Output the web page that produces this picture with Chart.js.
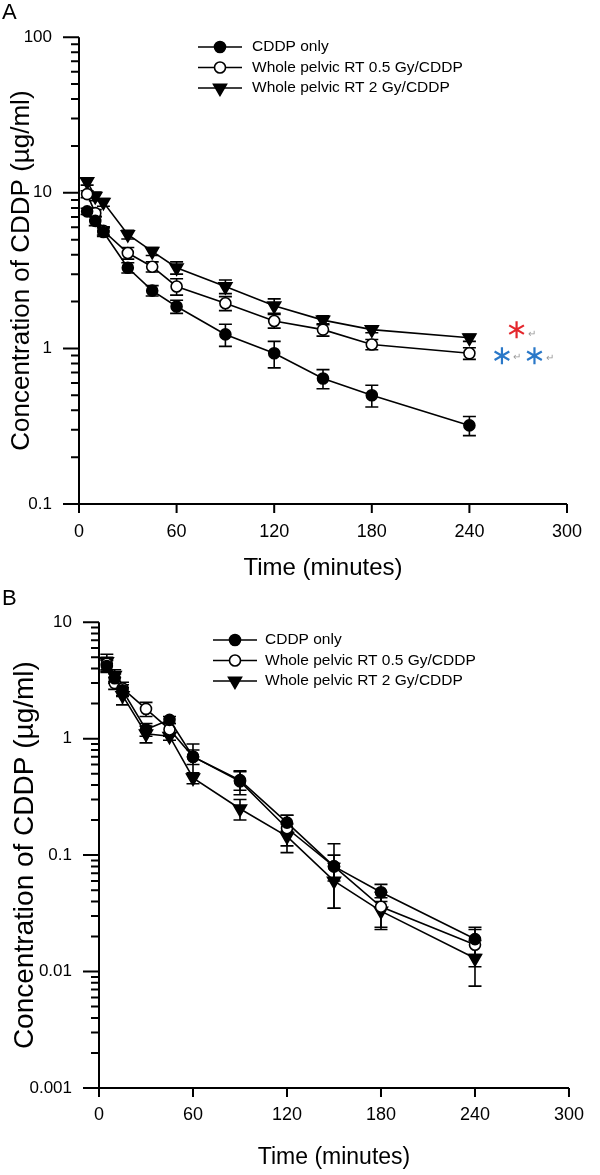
<!DOCTYPE html>
<html lang="en">
<head>
  <meta charset="UTF-8">
  <title>CDDP concentration after pelvic RT</title>
  <script src="https://cdn.jsdelivr.net/npm/chart.js"></script>
  <style>
    body { margin: 0; background: #fff; }
    canvas { position: absolute; left: 0; }
    #panelA { top: 0; }
    #panelB { top: 585px; }
  </style>
</head>
<body>
  <canvas id="panelA" width="600" height="585"></canvas>
  <canvas id="panelB" width="600" height="590"></canvas>

  <script>
    // sampling times (minutes)
    const times = [5, 10, 15, 30, 45, 60, 90, 120, 150, 180, 240];
    const seriesNames = ['CDDP only', 'Whole pelvic RT 0.5 Gy/CDDP', 'Whole pelvic RT 2 Gy/CDDP'];

    // panel A, concentration in ug/ml, mean and SEM
    const aCddp    = [7.6, 6.6, 5.6, 3.3, 2.35, 1.86, 1.23, 0.93, 0.64, 0.50, 0.32];
    const aCddpErr = [0.35, 0.45, 0.35, 0.25, 0.18, 0.18, 0.2, 0.18, 0.09, 0.08, 0.045];
    const aRt05    = [9.8, 7.4, 5.7, 4.1, 3.35, 2.5, 1.95, 1.5, 1.32, 1.06, 0.93];
    const aRt05Err = [0.5, 0.4, 0.35, 0.35, 0.25, 0.3, 0.2, 0.15, 0.12, 0.08, 0.08];
    const aRt2     = [11.8, 9.5, 8.7, 5.4, 4.2, 3.3, 2.5, 1.88, 1.52, 1.32, 1.17];
    const aRt2Err  = [0.6, 0.6, 0.5, 0.35, 0.25, 0.3, 0.25, 0.2, 0.1, 0.06, 0.06];

    // panel B
    const bCddp    = [4.2, 3.3, 2.6, 1.2, 1.45, 0.7, 0.44, 0.19, 0.08, 0.048, 0.019];
    const bCddpErr = [0.5, 0.3, 0.3, 0.15, 0.1, 0.1, 0.08, 0.03, 0.02, 0.008, 0.005];
    const bRt05    = [4.4, 3.0, 2.7, 1.8, 1.2, 0.7, 0.43, 0.17, 0.08, 0.036, 0.017];
    const bRt05Err = [0.6, 0.35, 0.35, 0.25, 0.15, 0.2, 0.1, 0.05, 0.045, 0.012, 0.006];
    const bRt2     = [4.6, 3.5, 2.35, 1.1, 1.05, 0.46, 0.25, 0.145, 0.06, 0.033, 0.013];
    const bRt2Err  = [0.7, 0.4, 0.4, 0.18, 0.08, 0.05, 0.05, 0.04, 0.025, 0.01, 0.0055];

    // tick labels
    const xTicks = [0, 60, 120, 180, 240, 300];
    const aYTicks = [0.1, 1, 10, 100];
    const bYTicks = [0.001, 0.01, 0.1, 1, 10];

    // significance marks beside panel A (minutes, ug/ml)
    const aStars = [
      { t: 269, v: 1.32, color: '#e4262c' },
      { t: 260, v: 0.897, color: '#2a78c8' },
      { t: 280, v: 0.897, color: '#2a78c8' }
    ];
    const aReturns = [
      { t: 278.5, v: 1.24 },
      { t: 269, v: 0.872 },
      { t: 289.5, v: 0.863 }
    ];

    const fontFamily = '"Liberation Sans", Arial, sans-serif';
    const markers = [
      { style: 'circle', rotation: 0, radius: 5.5, fill: '#000' },
      { style: 'circle', rotation: 0, radius: 5.5, fill: '#fff' },
      { style: 'triangle', rotation: 180, radius: 7.5, fill: '#000' }
    ];

    function makeDatasets(values, errors) {
      return seriesNames.map((name, s) => ({
        label: name,
        data: times.map((t, i) => ({ x: t, y: values[s][i] })),
        errors: errors[s],
        borderColor: '#000',
        borderWidth: 1.6,
        pointStyle: markers[s].style,
        pointRotation: markers[s].rotation,
        pointRadius: markers[s].radius,
        pointBackgroundColor: markers[s].fill,
        pointBorderColor: '#000',
        pointBorderWidth: 1.6,
        tension: 0,
        fill: false,
        clip: false
      }));
    }

    function drawMarker(ctx, ds, cx, cy) {
      const r = ds.pointRadius;
      ctx.fillStyle = ds.pointBackgroundColor;
      ctx.lineWidth = ds.pointBorderWidth;
      ctx.beginPath();
      if (ds.pointStyle === 'triangle') {
        ctx.moveTo(cx, cy + r);
        ctx.lineTo(cx - 0.866 * r, cy - 0.5 * r);
        ctx.lineTo(cx + 0.866 * r, cy - 0.5 * r);
        ctx.closePath();
      } else {
        ctx.arc(cx, cy, r, 0, Math.PI * 2);
      }
      ctx.fill();
      ctx.stroke();
    }

    // vertical error bars with caps
    const errorBars = {
      id: 'errorBars',
      beforeDatasetsDraw(chart) {
        const { ctx, scales: { x, y } } = chart;
        ctx.save();
        ctx.strokeStyle = '#000';
        ctx.lineWidth = 1.6;
        chart.data.datasets.forEach(ds => {
          ds.data.forEach((p, i) => {
            const e = ds.errors[i];
            const px = x.getPixelForValue(p.x);
            const top = y.getPixelForValue(p.y + e);
            const bot = y.getPixelForValue(Math.max(p.y - e, y.min));
            ctx.beginPath();
            ctx.moveTo(px, top); ctx.lineTo(px, bot);
            ctx.moveTo(px - 6.5, top); ctx.lineTo(px + 6.5, top);
            ctx.moveTo(px - 6.5, bot); ctx.lineTo(px + 6.5, bot);
            ctx.stroke();
          });
        });
        ctx.restore();
      }
    };

    // axis lines and tick marks, SigmaPlot style
    const axisFrame = {
      id: 'axisFrame',
      beforeDatasetsDraw(chart, args, opts) {
        const { ctx, chartArea: a, scales: { x, y } } = chart;
        ctx.save();
        ctx.strokeStyle = '#000';
        ctx.lineWidth = 2;
        ctx.beginPath();
        ctx.moveTo(a.left, a.top); ctx.lineTo(a.left, a.bottom);
        ctx.moveTo(a.left - opts.major, a.bottom); ctx.lineTo(a.right, a.bottom);
        const majors = y.ticks.map(t => t.value);
        majors.forEach((v, i) => {
          const py = y.getPixelForValue(v);
          ctx.moveTo(a.left - opts.major, py); ctx.lineTo(a.left, py);
          if (i < majors.length - 1) {
            for (let k = 2; k <= 9; k++) {
              const q = y.getPixelForValue(v * k);
              ctx.moveTo(a.left - opts.minor, q); ctx.lineTo(a.left, q);
            }
          }
        });
        x.ticks.forEach(t => {
          const px = x.getPixelForValue(t.value);
          ctx.moveTo(px, a.bottom); ctx.lineTo(px, a.bottom + opts.xTick);
        });
        ctx.stroke();
        ctx.restore();
      }
    };

    // legend: line + marker + text, placed inside the plot
    const lineLegend = {
      id: 'lineLegend',
      afterDraw(chart, args, opts) {
        const { ctx } = chart;
        ctx.save();
        ctx.strokeStyle = '#000';
        ctx.font = opts.font;
        ctx.textBaseline = 'middle';
        chart.data.datasets.forEach((ds, i) => {
          const yy = opts.rows[i];
          ctx.lineWidth = 1.6;
          ctx.beginPath();
          ctx.moveTo(opts.x0, yy); ctx.lineTo(opts.x1, yy);
          ctx.stroke();
          drawMarker(ctx, ds, (opts.x0 + opts.x1) / 2, yy);
          ctx.fillStyle = '#000';
          ctx.fillText(ds.label, opts.textX, yy);
        });
        // panel letter
        ctx.font = '22px ' + fontFamily;
        ctx.textBaseline = 'alphabetic';
        ctx.fillText(opts.letter, 2, opts.letterY);
        ctx.restore();
      }
    };

    // asterisks and paragraph marks
    const sigMarks = {
      id: 'sigMarks',
      afterDraw(chart, args, opts) {
        if (!opts.stars) return;
        const { ctx, scales: { x, y } } = chart;
        ctx.save();
        ctx.lineWidth = 2.2;
        opts.stars.forEach(s => {
          const cx = x.getPixelForValue(s.t), cy = y.getPixelForValue(s.v), r = 8.5;
          ctx.strokeStyle = s.color;
          ctx.beginPath();
          for (let k = 0; k < 3; k++) {
            const ang = Math.PI / 2 + k * Math.PI / 3;
            ctx.moveTo(cx + r * Math.cos(ang), cy + r * Math.sin(ang));
            ctx.lineTo(cx - r * Math.cos(ang), cy - r * Math.sin(ang));
          }
          ctx.stroke();
        });
        ctx.fillStyle = '#9a9a9a';
        ctx.font = '10px ' + fontFamily;
        ctx.textAlign = 'center';
        ctx.textBaseline = 'middle';
        opts.returns.forEach(r => {
          ctx.fillText('\u21B5', x.getPixelForValue(r.t), y.getPixelForValue(r.v));
        });
        ctx.restore();
      }
    };

    function renderPanel(id, cfg) {
      const ctx = document.getElementById(id).getContext('2d');
      return new Chart(ctx, {
        type: 'line',
        data: { datasets: makeDatasets(cfg.values, cfg.errors) },
        plugins: [axisFrame, errorBars, lineLegend, sigMarks],
        options: {
          responsive: false,
          animation: false,
          layout: { padding: cfg.padding },
          scales: {
            x: {
              type: 'linear',
              min: 0, max: 300,
              afterBuildTicks: s => { s.ticks = xTicks.map(v => ({ value: v })); },
              afterFit: s => { s.height = cfg.xHeight; },
              grid: { display: false, drawTicks: false },
              border: { display: false },
              ticks: { color: '#000', padding: cfg.xTickPad, maxRotation: 0, autoSkip: false,
                       font: { family: fontFamily, size: 18 } },
              title: { display: true, text: 'Time (minutes)', color: '#000',
                       font: { family: fontFamily, size: cfg.xTitleSize },
                       padding: { top: 0, bottom: cfg.xTitlePad } }
            },
            y: {
              type: 'logarithmic',
              min: cfg.yTicks[0], max: cfg.yTicks[cfg.yTicks.length - 1],
              afterBuildTicks: s => { s.ticks = cfg.yTicks.map(v => ({ value: v })); },
              afterFit: s => { s.width = cfg.yWidth; },
              grid: { display: false, drawTicks: false },
              border: { display: false },
              ticks: { color: '#000', padding: 27, autoSkip: false, callback: v => String(v),
                       font: { family: fontFamily, size: 17 } },
              title: { display: true, text: 'Concentration of CDDP (\u00B5g/ml)', color: '#000',
                       font: { family: fontFamily, size: cfg.yTitleSize },
                       padding: { top: cfg.yTitlePad, bottom: 0 } }
            }
          },
          plugins: {
            legend: { display: false },
            tooltip: { enabled: false },
            axisFrame: { major: 16, minor: 8, xTick: 9 },
            lineLegend: cfg.legend,
            sigMarks: cfg.marks || {}
          }
        }
      });
    }

    renderPanel('panelA', {
      values: [aCddp, aRt05, aRt2],
      errors: [aCddpErr, aRt05Err, aRt2Err],
      yTicks: aYTicks,
      padding: { left: 0, right: 33, top: 16, bottom: 0 },
      yWidth: 79, xHeight: 81, xTickPad: 17, xTitleSize: 24, xTitlePad: 2,
      yTitleSize: 26, yTitlePad: 6,
      legend: { x0: 198, x1: 242, textX: 252, rows: [47, 67.5, 88], font: '15.5px ' + fontFamily,
                letter: 'A', letterY: 19 },
      marks: { stars: aStars, returns: aReturns }
    });

    renderPanel('panelB', {
      values: [bCddp, bRt05, bRt2],
      errors: [bCddpErr, bRt05Err, bRt2Err],
      yTicks: bYTicks,
      padding: { left: 0, right: 25, top: 26, bottom: 0 },
      yWidth: 99, xHeight: 87, xTickPad: 16, xTitleSize: 23, xTitlePad: 4,
      yTitleSize: 28, yTitlePad: 8,
      legend: { x0: 213, x1: 257, textX: 265, rows: [55, 75.5, 96], font: '15.5px ' + fontFamily,
                letter: 'B', letterY: 20 }
    });
  </script>
</body>
</html>
